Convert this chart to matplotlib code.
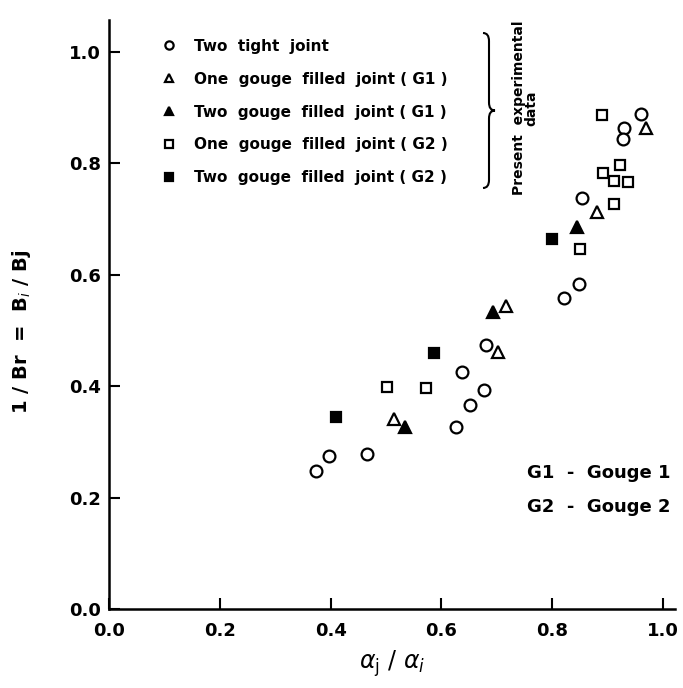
import numpy as np
import matplotlib
matplotlib.use('Agg')
import matplotlib.pyplot as plt
from matplotlib.path import Path
from matplotlib.patches import PathPatch

# data (alpha_j/alpha_i, 1/Br)
tight_x = [0.374, 0.398, 0.466, 0.627, 0.652, 0.677, 0.638, 0.680, 0.822, 0.848, 0.854, 0.929, 0.927, 0.960]
tight_y = [0.248, 0.275, 0.278, 0.326, 0.366, 0.394, 0.426, 0.474, 0.558, 0.583, 0.738, 0.864, 0.843, 0.888]

one_g1_x = [0.514, 0.703, 0.717, 0.881, 0.969]
one_g1_y = [0.341, 0.461, 0.544, 0.712, 0.863]

two_g1_x = [0.535, 0.694, 0.844]
two_g1_y = [0.327, 0.534, 0.685]

one_g2_x = [0.502, 0.573, 0.850, 0.889, 0.891, 0.912, 0.937, 0.922, 0.912]
one_g2_y = [0.399, 0.397, 0.646, 0.886, 0.782, 0.768, 0.767, 0.798, 0.728]

two_g2_x = [0.409, 0.586, 0.799]
two_g2_y = [0.345, 0.459, 0.664]

labels = ['Two  tight  joint',
          'One  gouge  filled  joint ( G1 )',
          'Two  gouge  filled  joint ( G1 )',
          'One  gouge  filled  joint ( G2 )',
          'Two  gouge  filled  joint ( G2 )']
ticks = [0.0, 0.2, 0.4, 0.6, 0.8, 1.0]

W, H = 683, 688
fig = plt.figure(figsize=(W/100, H/100), dpi=100)
ax = fig.add_axes([109/W, 1-609/H, (675-109)/W, (609-20)/H])

ms = 8.5
mew = 1.6
h1, = ax.plot(tight_x, tight_y, 'o', ms=ms, mfc='white', mec='black', mew=mew, ls='none')
h2, = ax.plot(one_g1_x, one_g1_y, '^', ms=ms, mfc='white', mec='black', mew=mew, ls='none')
h3, = ax.plot(two_g1_x, two_g1_y, '^', ms=ms, mfc='black', mec='black', mew=mew, ls='none')
h4, = ax.plot(one_g2_x, one_g2_y, 's', ms=ms-1, mfc='white', mec='black', mew=mew, ls='none')
h5, = ax.plot(two_g2_x, two_g2_y, 's', ms=ms-1, mfc='black', mec='black', mew=mew, ls='none')

ax.set_xlim(0, (675-109)/554)
ax.set_ylim(0, (609-20)/557)
ax.spines['top'].set_visible(False)
ax.spines['right'].set_visible(False)
ax.spines['left'].set_linewidth(1.8)
ax.spines['bottom'].set_linewidth(1.8)
ax.set_xticks(ticks)
ax.set_yticks(ticks)
ax.set_xticklabels(['%.1f' % t for t in ticks])
ax.set_yticklabels(['%.1f' % t for t in ticks])
ax.tick_params(direction='in', length=8, width=1.5, labelsize=13, pad=6)
ax.tick_params(axis='x', pad=9)
for lab in ax.get_xticklabels() + ax.get_yticklabels():
    lab.set_fontweight('bold')

ax.set_xlabel(r'$\alpha_{\mathrm{j}}\ /\ \alpha_{i}$', fontsize=17, labelpad=6)
ax.set_ylabel(r'1 / Br  =  B$_{i}$ / Bj', fontsize=14, fontweight='bold', labelpad=20)
ax.yaxis.set_label_coords(-0.135, 0.47)

leg = ax.legend([h1, h2, h3, h4, h5], labels, loc='upper left',
                bbox_to_anchor=((148-109)/566, (609-25)/589), frameon=False,
                fontsize=11, labelspacing=1.17, handlelength=1.0, handletextpad=1.1,
                markerscale=0.7)
for t in leg.get_texts():
    t.set_fontweight('bold')

# curly brace next to legend (pixel coords)
def px(x, y):
    return (x/W, 1-y/H)
x0, x1, yt, yb = 483, 495, 33, 188
ym = (yt+yb)/2
xm = (x0+x1)/2
r = 8
verts = [px(x0, yt), px(xm, yt), px(xm, yt+r),
         px(xm, ym-r), px(xm, ym), px(x1, ym),
         px(xm, ym), px(xm, ym+r),
         px(xm, yb-r), px(xm, yb), px(x0, yb)]
codes = [Path.MOVETO, Path.CURVE3, Path.CURVE3,
         Path.LINETO, Path.CURVE3, Path.CURVE3,
         Path.CURVE3, Path.CURVE3,
         Path.LINETO, Path.CURVE3, Path.CURVE3]
brace = PathPatch(Path(verts, codes), transform=fig.transFigure, fill=False, lw=1.5, ec='black')
fig.patches.append(brace)

fig.text(525/W, 1-108/H, 'Present  experimental\ndata', rotation=90, fontsize=10,
         fontweight='bold', ha='center', va='center', multialignment='center', linespacing=0.9)

fig.text(527/W, 1-473/H, 'G1  -  Gouge 1', fontsize=13, fontweight='bold', va='center')
fig.text(527/W, 1-507/H, 'G2  -  Gouge 2', fontsize=13, fontweight='bold', va='center')

plt.savefig('out.png', dpi=100)
